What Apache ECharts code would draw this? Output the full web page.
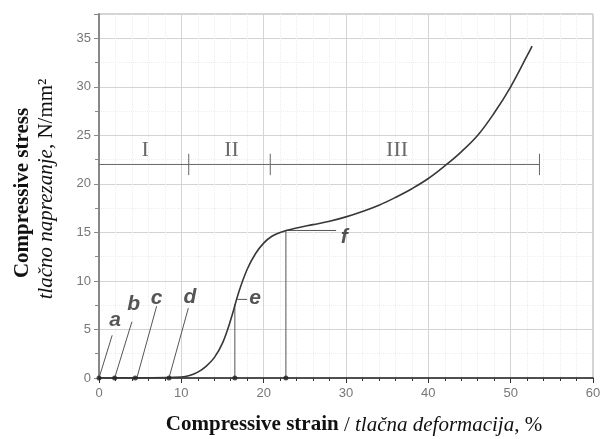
<!DOCTYPE html>
<html>
<head>
<meta charset="utf-8">
<script src="https://cdn.jsdelivr.net/npm/echarts@6/dist/echarts.min.js"></script>
<style>
  html, body { margin: 0; padding: 0; background: #fff; }
  #chart { width: 610px; height: 439px; }
</style>
</head>
<body>
<div id="chart"></div>
<script>
// stress-strain curve
var strain = [0, 5, 10, 11, 12, 13, 14, 15, 16, 17, 18, 19, 20, 21, 22, 24, 26, 28, 30, 32, 34, 36, 38, 40, 42, 44, 46, 48, 50, 52, 52.6];
var stress = [0, 0.02, 0.1, 0.25, 0.6, 1.2, 2.1, 3.6, 6.0, 8.9, 11.2, 12.8, 13.9, 14.6, 15.0, 15.45, 15.8, 16.15, 16.6, 17.15, 17.8, 18.6, 19.5, 20.55, 21.85, 23.3, 25.0, 27.3, 30.0, 33.2, 34.2];

// points marked on the strain axis
var markX = [0, 1.9, 4.4, 8.5, 16.5, 22.7];

// leader / reference lines [x1, y1, x2, y2]
var leaders = [
  [0, 0, 1.6, 4.4],
  [1.9, 0, 4.0, 5.8],
  [4.6, 0, 7.0, 7.4],
  [8.5, 0, 10.85, 7.2],
  [16.5, 0, 16.5, 7.6],
  [16.8, 8.1, 18.0, 8.1],
  [22.7, 0, 22.7, 15.2],
  [22.7, 15.2, 28.8, 15.2]
];

var pointNames = ['a', 'b', 'c', 'd', 'e', 'f'];
var pointLabelX = [1.95, 4.2, 7.0, 11.05, 18.95, 29.8];
var pointLabelY = [5.95, 7.6, 8.2, 8.35, 8.2, 14.5];

// regions I, II, III
var regionLevel = 22;
var regionBounds = [0, 10.9, 20.8, 53.5];
var regionNames = ['I', 'II', 'III'];
var regionLabelX = [5.6, 16.1, 36.2];
var regionLabelY = 23.5;

var chart = echarts.init(document.getElementById('chart'));

var curve = strain.map(function (x, i) { return [x, stress[i]]; });

var series = [];

leaders.forEach(function (l) {
  series.push({
    type: 'line', silent: true, symbol: 'none',
    lineStyle: { color: '#555', width: 1 },
    data: [[l[0], l[1]], [l[2], l[3]]]
  });
});

// region line with end bars
series.push({
  type: 'line', silent: true, symbol: 'none',
  lineStyle: { color: '#666', width: 1 },
  data: [[regionBounds[0], regionLevel], [regionBounds[3], regionLevel]]
});
regionBounds.slice(1).forEach(function (b) {
  series.push({
    type: 'line', silent: true, symbol: 'none',
    lineStyle: { color: '#666', width: 1 },
    data: [[b, regionLevel - 1.1], [b, regionLevel + 1.1]]
  });
});

series.push({
  type: 'line', silent: true, symbol: 'none', smooth: 0.4,
  lineStyle: { color: '#383838', width: 1.6 },
  data: curve,
  z: 5
});

series.push({
  type: 'scatter', silent: true, symbol: 'circle', symbolSize: 5,
  itemStyle: { color: '#222' },
  data: markX.map(function (x) { return [x, 0]; }),
  z: 6
});

series.push({
  type: 'scatter', silent: true, symbolSize: 0,
  data: pointNames.map(function (n, i) { return { value: [pointLabelX[i], pointLabelY[i]], name: n }; }),
  label: {
    show: true, position: 'inside', formatter: '{b}',
    fontFamily: 'Liberation Sans', fontWeight: 'bold', fontStyle: 'italic',
    fontSize: 21, color: '#2a2a2a'
  }
});

series.push({
  type: 'scatter', silent: true, symbolSize: 0,
  data: regionNames.map(function (n, i) { return { value: [regionLabelX[i], regionLabelY], name: n }; }),
  label: {
    show: true, position: 'inside', formatter: '{b}',
    fontFamily: 'Liberation Serif', fontSize: 22, color: '#444'
  }
});

chart.setOption({
  animation: false,
  backgroundColor: '#fff',
  grid: { left: 99, right: 17, top: 14, bottom: 61, show: true, borderColor: '#aaa', borderWidth: 1 },
  xAxis: {
    type: 'value', min: 0, max: 60, interval: 10,
    axisLine: { lineStyle: { color: '#222', width: 1.5 } },
    axisTick: { length: 5, lineStyle: { color: '#333' } },
    minorTick: { show: true, splitNumber: 5, length: 3, lineStyle: { color: '#333' } },
    axisLabel: { fontFamily: 'Liberation Sans', fontSize: 13, color: '#777', margin: 9 },
    splitLine: { lineStyle: { color: '#d4d4d4', width: 1 } },
    minorSplitLine: { show: true, lineStyle: { color: '#eeeeee', type: 'dotted' } }
  },
  yAxis: {
    type: 'value', min: 0, max: 37.5, interval: 5,
    axisLine: { show: true, lineStyle: { color: '#888', width: 2 } },
    axisTick: { show: true, length: 5, lineStyle: { color: '#888' } },
    minorTick: { show: true, splitNumber: 2, length: 4, lineStyle: { color: '#888' } },
    axisLabel: { fontFamily: 'Liberation Sans', fontSize: 13, color: '#777', margin: 8, showMaxLabel: false },
    splitLine: { lineStyle: { color: '#d4d4d4', width: 1 } },
    minorSplitLine: { show: true, lineStyle: { color: '#eeeeee', type: 'dotted' } }
  },
  graphic: [
    {
      type: 'text', x: 354, y: 425,
      style: {
        text: '{b|Compressive strain}{n| / }{i|tlačna deformacija}{n|, %}',
        align: 'center', verticalAlign: 'middle',
        rich: {
          b: { fontFamily: 'Liberation Serif', fontWeight: 'bold', fontSize: 21, fill: '#111' },
          i: { fontFamily: 'Liberation Serif', fontStyle: 'italic', fontSize: 21, fill: '#111' },
          n: { fontFamily: 'Liberation Serif', fontSize: 21, fill: '#111' }
        }
      }
    },
    {
      type: 'text', x: 23, y: 193, rotation: Math.PI / 2,
      style: {
        text: 'Compressive stress', align: 'center', verticalAlign: 'middle',
        font: 'bold 21px "Liberation Serif"', fill: '#111'
      }
    },
    {
      type: 'text', x: 46, y: 189, rotation: Math.PI / 2,
      style: {
        text: '{i|tlačno naprezanje}{n|, N/mm²}', align: 'center', verticalAlign: 'middle',
        rich: {
          i: { fontFamily: 'Liberation Serif', fontStyle: 'italic', fontSize: 21, fill: '#111' },
          n: { fontFamily: 'Liberation Serif', fontSize: 21, fill: '#111' }
        }
      }
    }
  ],
  series: series
});
</script>
</body>
</html>
